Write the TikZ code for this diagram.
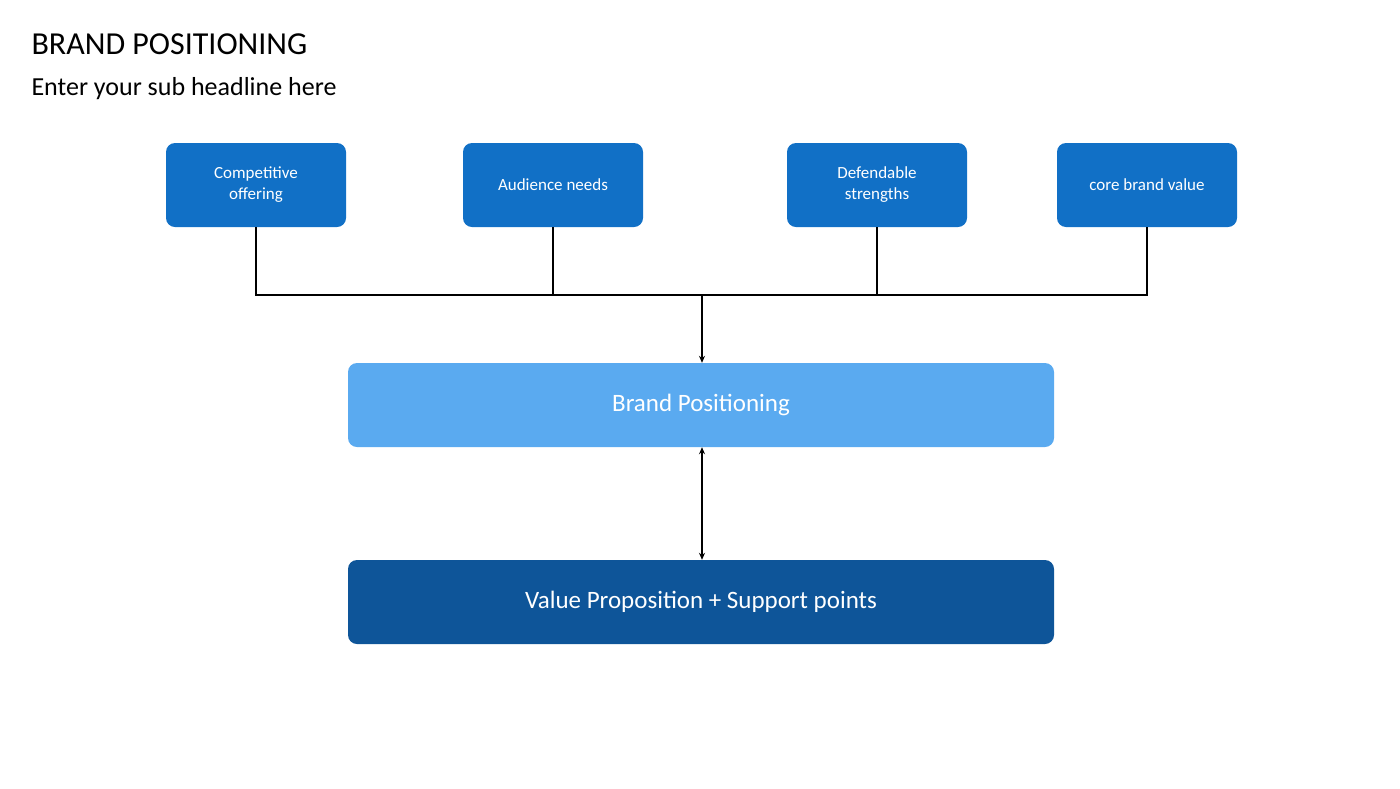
\documentclass[tikz,border=0pt]{standalone}
\usepackage{fontspec}
\setmainfont{Carlito}
\usetikzlibrary{arrows.meta}
\definecolor{topb}{HTML}{1170C6}
\definecolor{midb}{HTML}{5AAAF0}
\definecolor{botb}{HTML}{0E5599}
\begin{document}
\begin{tikzpicture}[x=1pt,y=-1pt,
  box/.style={rounded corners=9pt,text=white,align=center,inner sep=0pt},
  top/.style={box,fill=topb,minimum width=180pt,minimum height=84pt,font=\fontsize{17}{21}\selectfont},
  wide/.style={box,minimum width=706pt,minimum height=84pt,font=\fontsize{25}{30}\selectfont},
  ln/.style={line width=1.2pt,black},
  arr/.style={ln,-{Stealth[length=7pt,width=6pt]}}]
\useasboundingbox (0,0) rectangle (1400,788);
\node[anchor=base west,font=\fontsize{32}{36}\selectfont] (title) at (28,54) {BRAND POSITIONING};
\node[anchor=base west,font=\fontsize{26}{30}\selectfont] (sub) at (28,95) {Enter your sub headline here};
\node[top] (a) at (256,185) {Competitive\\offering};
\node[top] (b) at (553,185) {Audience needs};
\node[top] (c) at (877,185) {Defendable\\strengths};
\node[top] (d) at (1147,185) {core brand value};
\node[wide,fill=midb] (bp) at (701,405) {Brand Positioning};
\node[wide,fill=botb] (vp) at (701,602) {Value Proposition + Support points};
\coordinate (j) at (702,295);
\draw[ln] (a.south) |- (j);
\draw[ln] (d.south) |- (j);
\draw[ln] (b.south) |- (j);
\draw[ln] (c.south) |- (j);
\draw[arr] (j) -- (bp.north -| j);
\draw[ln,{Stealth[length=7pt,width=6pt]}-{Stealth[length=7pt,width=6pt]}] (bp.south -| j) -- (vp.north -| j);
\end{tikzpicture}
\end{document}
